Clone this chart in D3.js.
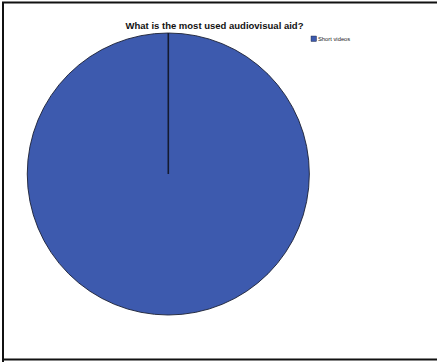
<!DOCTYPE html>
<html><head><meta charset="utf-8">
<script src="https://cdn.jsdelivr.net/npm/d3@7"></script>
<style>html,body{margin:0;padding:0;background:#fff;}svg{display:block;}</style>
</head><body>
<script>
const categories = ["Short videos"];
const values = [100];
const colors = ["#3d5aae"];
const title = "What is the most used audiovisual aid?";

const W = 437, H = 362;
const svg = d3.select("body").append("svg").attr("width", W).attr("height", H);
svg.append("rect").attr("width", W).attr("height", H).attr("fill", "#fff");

// frame
svg.append("path").attr("d", `M3,${H+5} L3,2.5 L${W+5},2.5`).attr("fill","none").attr("stroke","#111").attr("stroke-width",2);
svg.append("line").attr("x1",3).attr("x2",W+5).attr("y1",359.5).attr("y2",359.5).attr("stroke","#111").attr("stroke-width",2);

svg.append("text").attr("x", 214.5).attr("y", 29).attr("text-anchor","middle")
  .attr("font-family","Liberation Sans, Arial, sans-serif").attr("font-weight","bold").attr("font-size",9.5)
  .attr("fill","#111").text(title);

const cx = 168.3, cy = 174, r = 141;
const pie = d3.pie().sort(null).value(d => d)(values);
const arc = d3.arc().innerRadius(0).outerRadius(r);
const g = svg.append("g").attr("transform", `translate(${cx},${cy})`);
g.selectAll("path.slice").data(pie).join("path").attr("class","slice")
  .attr("d", arc).attr("fill", (d,i) => colors[i]).attr("stroke","#1a1f33").attr("stroke-width",0.9);
// slice boundary radii
g.selectAll("line.bound").data(pie).join("line").attr("class","bound")
  .attr("x1",0).attr("y1",0)
  .attr("x2", d => d3.pointRadial(d.startAngle, r)[0])
  .attr("y2", d => d3.pointRadial(d.startAngle, r)[1])
  .attr("stroke","#141a30").attr("stroke-width",1.6);

// legend
const lg = svg.append("g").attr("transform","translate(311,36)");
categories.forEach((c,i) => {
  lg.append("rect").attr("x",0).attr("y",i*10).attr("width",5.5).attr("height",5.5)
    .attr("fill",colors[i]).attr("stroke","#1a1f33").attr("stroke-width",0.4);
  lg.append("text").attr("x",7).attr("y",i*10+5.3).attr("font-family","Liberation Sans, Arial, sans-serif")
    .attr("font-size",5.8).attr("fill","#222").text(c);
});
</script>
</body></html>
